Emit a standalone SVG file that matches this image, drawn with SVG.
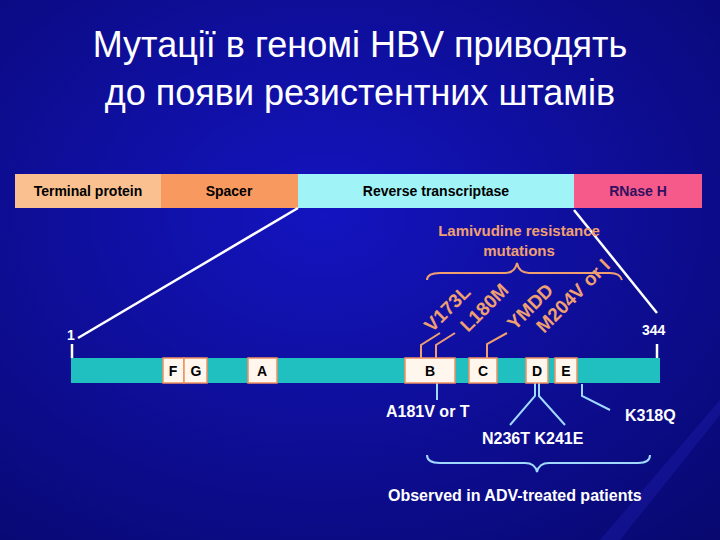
<svg xmlns="http://www.w3.org/2000/svg" width="720" height="540" viewBox="0 0 720 540">
<defs>
<radialGradient id="bg" cx="0.45" cy="0.4" r="0.8"><stop offset="0" stop-color="#1414c0"/><stop offset="1" stop-color="#080870"/></radialGradient>
<style>
text{font-family:"Liberation Sans",Arial,sans-serif;font-weight:bold}
.t{font-size:14px;fill:#000;text-anchor:middle}
.w{font-size:16px;fill:#fff}
.o{font-size:19px;fill:#f0a070}
.box{fill:#fff6ee;stroke:#f09060;stroke-width:1.5}
.ln{stroke:#fff;stroke-width:2.5;fill:none}
.ol{stroke:#f0a070;stroke-width:2;fill:none}
.bl{stroke:#a0d8ff;stroke-width:2;fill:none}
</style>
</defs>
<rect width="720" height="540" fill="url(#bg)"/>
<path d="M600 540 L720 400 L720 415 L620 540Z" fill="#3030e0" opacity="0.2"/>
<g id="title"><text x="360" y="57" font-size="36" fill="#fff" text-anchor="middle" style="font-weight:normal">Мутації в геномі HBV приводять</text>
<text x="360" y="105" font-size="36" fill="#fff" text-anchor="middle" style="font-weight:normal">до появи резистентних штамів</text></g>
<g id="domains">
<rect x="15" y="174" width="146" height="34" fill="#fbc090"/><text class="t" x="88" y="196">Terminal protein</text>
<rect x="161" y="174" width="137" height="34" fill="#f89a60"/><text class="t" x="229" y="196">Spacer</text>
<rect x="298" y="174" width="276" height="34" fill="#a0f4f8"/><text class="t" x="436" y="196">Reverse transcriptase</text>
<rect x="574" y="174" width="128" height="34" fill="#f55a8a"/><text class="t" x="638" y="196" style="fill:#301060">RNase H</text>
</g>
<g id="connectors">
<line class="ln" x1="298" y1="208" x2="78" y2="338"/>
<line class="ln" x1="574" y1="210" x2="657" y2="313"/>
<line class="ln" x1="72" y1="344" x2="72" y2="358"/>
<line class="ln" x1="657" y1="344" x2="657" y2="358"/>
<polyline class="ol" points="421,358 421,345 440,333"/>
<polyline class="ol" points="436,358 436,345 455,333"/>
<polyline class="ol" points="487,358 487,344 507,333"/>
<path class="ol" d="M427 280 Q427 273 440 273 L505 273 Q515 273 517 263 Q519 273 529 273 L610 273 Q620 273 622 280"/>
<polyline class="bl" points="437,383 437,400"/>
<polyline class="bl" points="535,383 535,396 510,425"/>
<polyline class="bl" points="539,383 539,396 565,425"/>
<polyline class="bl" points="582,384 582,396 610,410"/>
<path class="bl" d="M427 455 Q427 463 440 463 L525 463 Q535 463 537 472 Q539 463 549 463 L638 463 Q650 463 650 455"/>
</g>
<g id="gene">
<rect x="71" y="358" width="589" height="25" fill="#20c0c0"/>
<rect class="box" x="163" y="358" width="21" height="25"/><text class="t" x="173" y="376">F</text>
<rect class="box" x="184" y="358" width="23" height="25"/><text class="t" x="196" y="376">G</text>
<rect class="box" x="248" y="358" width="29" height="25"/><text class="t" x="262" y="376">A</text>
<rect class="box" x="405" y="358" width="50" height="25"/><text class="t" x="430" y="376">B</text>
<rect class="box" x="469" y="358" width="28" height="25"/><text class="t" x="483" y="376">C</text>
<rect class="box" x="526" y="358" width="22" height="25"/><text class="t" x="537" y="376">D</text>
<rect class="box" x="555" y="358" width="22" height="25"/><text class="t" x="566" y="376">E</text>
<text class="w" x="67" y="340" style="font-size:14px">1</text>
<text class="w" x="642" y="335" style="font-size:14px">344</text>
</g>
<g id="labels">
<text class="o" x="519" y="236" text-anchor="middle" style="font-size:15px">Lamivudine resistance</text>
<text class="o" x="519" y="256" text-anchor="middle" style="font-size:15px">mutations</text>
<text class="o" transform="translate(432,333) rotate(-45)">V173L</text>
<text class="o" transform="translate(468,333) rotate(-45)">L180M</text>
<text class="o" transform="translate(515,331) rotate(-45)">YMDD</text>
<text class="o" transform="translate(544,334) rotate(-45)">M204V or I</text>
<text class="w" x="386" y="417">A181V or T</text>
<text class="w" x="482" y="444">N236T K241E</text>
<text class="w" x="625" y="421">K318Q</text>
<text class="w" x="388" y="501">Observed in ADV-treated patients</text>
</g>
</svg>
